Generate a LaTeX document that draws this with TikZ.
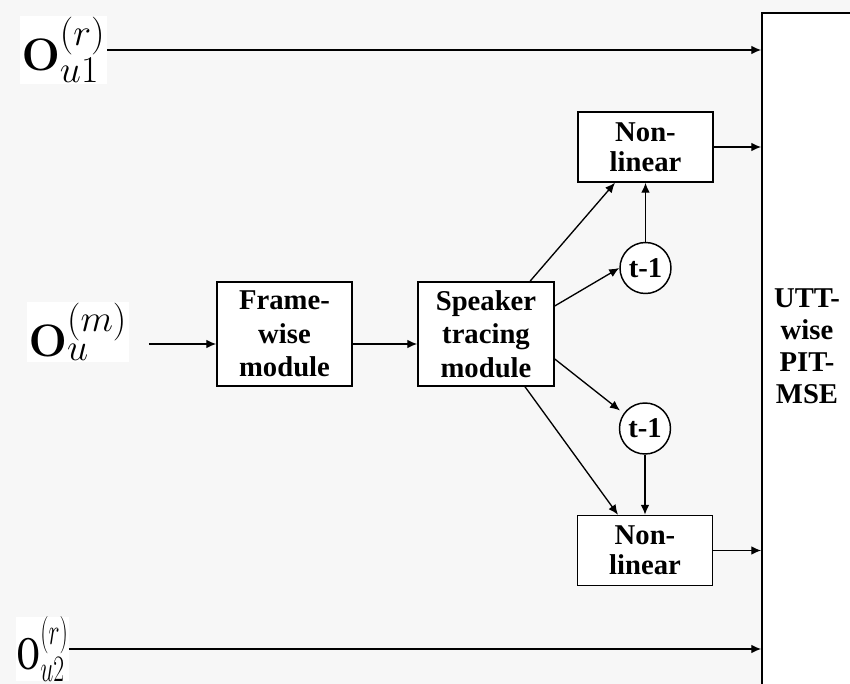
\documentclass[tikz,border=0pt]{standalone}
\usepackage[no-math]{fontspec}
\setmainfont{Liberation Serif}
\usetikzlibrary{arrows.meta,calc}
\definecolor{bgc}{RGB}{247,247,247}
\begin{document}
\begin{tikzpicture}[x=0.75pt,y=-0.75pt,
  box/.style={draw,line width=1.1pt,fill=white,align=center,font=\fontsize{21.5}{25}\selectfont\bfseries,inner sep=0pt},
  blk/.style={box,minimum width=101.25pt,minimum height=78pt},
  nl/.style={box,minimum width=101.25pt,minimum height=52.5pt,font=\fontsize{21.5}{22.5}\selectfont\bfseries},
  delay/.style={box,circle,minimum size=38.25pt},
  arr/.style={line width=1pt,-{Latex[length=7.5pt,width=6.5pt]}},
  lbl/.style={fill=white,inner sep=1pt,font=\Huge}]
\fill[bgc] (0,0) rectangle (850,684);
\useasboundingbox (0,0) rectangle (850,684);
\begin{scope}
\clip (0,0) rectangle (850,684);
\node[draw,line width=1.1pt,fill=white,minimum width=67.5pt,minimum height=515.25pt,inner sep=0pt] (utt) at (807,356.5) {};
\end{scope}
\node[font=\fontsize{21.5}{24}\selectfont\bfseries,align=center] (utttxt) at (807,346) {UTT-\\wise\\PIT-\\MSE};
\node[lbl] (ou1) at (63.5,50) {\scalebox{1.37}{$\mathbf{O}^{(r)}_{u1}$}};
\node[lbl] (oum) at (78,332) {\scalebox{1.37}{$\mathbf{O}^{(m)}_{u}$}};
\node[lbl,inner sep=0pt] (ou2) at (42.5,649) {\scalebox{0.85}[1.35]{$\mathbf{O}^{(r)}_{u2}$}};
\node[blk] (frame) at (284.5,334) {Frame-\\wise\\module};
\node[blk,minimum width=102pt] (spk) at (486,334) {Speaker\\tracing\\module};
\node[nl] (nl1) at (645.5,147) {Non-\\linear};
\node[nl] (nl2) at (645,550.5) {Non-\\linear};
\node[delay] (d1) at (645.5,268) {t-1};
\node[delay] (d2) at (645,428.5) {t-1};
\draw[arr] (ou1.east) -- (utt.west |- ou1.east);
\draw[arr] (ou2.east) -- (utt.west |- ou2.east);
\draw[arr] ($(oum.east)+(20,12)$) -- ($(frame.west)+(0,10)$);
\draw[arr] ($(frame.east)+(0,10)$) -- ($(spk.west)+(0,10)$);
\draw[arr] ($(spk.north)+(44,0)$) -- ($(nl1.south)+(-30.5,0)$);
\draw[arr] ($(spk.east)+(0,-28)$) -- (d1.west);
\draw[arr] (d1) -- (nl1);
\draw[arr] (nl1.east) -- (utt.west |- nl1.east);
\draw[arr] ($(spk.east)+(0,25)$) -- ($(d2.center)+(-25,-18)$);
\draw[arr] ($(spk.south)+(39,0)$) -- ($(nl2.north)+(-27,0)$);
\draw[arr] (d2) -- (nl2);
\draw[arr] (nl2.east) -- (utt.west |- nl2.east);
\end{tikzpicture}
\end{document}
